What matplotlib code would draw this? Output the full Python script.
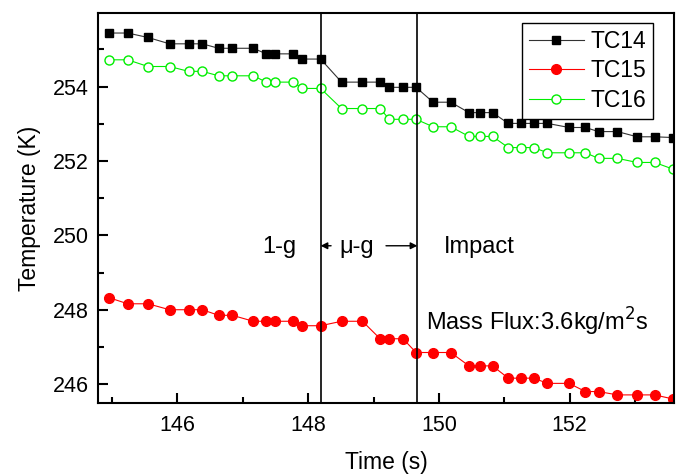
import matplotlib
matplotlib.use('Agg')
from matplotlib import pyplot as plt
from matplotlib.ticker import MultipleLocator

plt.rcParams['font.family'] = ['Liberation Sans', 'DejaVu Sans']

# sample times (s), shared by all three thermocouples
time_s = [144.96, 145.24, 145.55, 145.88, 146.17, 146.38, 146.63, 146.84,
          147.16, 147.36, 147.49, 147.77, 147.91, 148.19, 148.51, 148.83,
          149.10, 149.24, 149.45, 149.65, 149.91, 150.18, 150.46, 150.63,
          150.82, 151.06, 151.25, 151.45, 151.66, 151.99, 152.24, 152.44,
          152.73, 153.03, 153.30, 153.58]

tc14 = [255.44, 255.44, 255.32, 255.15, 255.15, 255.15, 255.03, 255.03,
        255.03, 254.88, 254.88, 254.88, 254.74, 254.74, 254.12, 254.12,
        254.12, 253.98, 253.98, 253.98, 253.58, 253.58, 253.30, 253.30,
        253.30, 253.01, 253.01, 253.01, 253.01, 252.90, 252.90, 252.79,
        252.79, 252.65, 252.65, 252.63]

tc15 = [248.32, 248.16, 248.16, 248.00, 248.00, 248.00, 247.85, 247.85,
        247.69, 247.69, 247.69, 247.69, 247.57, 247.57, 247.69, 247.69,
        247.22, 247.22, 247.22, 246.85, 246.85, 246.85, 246.49, 246.49,
        246.49, 246.16, 246.16, 246.16, 246.02, 246.02, 245.80, 245.80,
        245.71, 245.71, 245.71, 245.60]

tc16 = [254.72, 254.72, 254.54, 254.54, 254.41, 254.41, 254.29, 254.29,
        254.29, 254.12, 254.12, 254.12, 253.95, 253.95, 253.41, 253.41,
        253.41, 253.12, 253.12, 253.12, 252.92, 252.92, 252.66, 252.66,
        252.66, 252.36, 252.36, 252.36, 252.22, 252.22, 252.22, 252.07,
        252.07, 251.96, 251.96, 251.78]

phase_lines = [148.19, 149.67]


def main():
    fig = plt.figure(figsize=(6.77, 4.74), dpi=100)
    ax = fig.add_axes([0.1452, 0.1504, 0.8504, 0.8215])

    ax.plot(time_s, tc14, '-s', color='#333333', lw=0.8, ms=6,
            mfc='black', mec='black', label='TC14')
    ax.plot(time_s, tc15, '-o', color='red', lw=0.8, ms=7,
            mfc='red', mec='red', label='TC15')
    ax.plot(time_s, tc16, '-o', color='#00ee00', lw=0.8, ms=6.5,
            mfc='white', mec='#00ee00', mew=1.0, label='TC16')

    for x in phase_lines:
        ax.axvline(x, color='black', lw=1.2)

    ax.text(147.56, 249.7, '1-g', fontsize=17, ha='center', va='center')
    ax.text(148.74, 249.7, '\u03bc-g', fontsize=17, ha='center', va='center')
    ax.text(150.62, 249.7, 'Impact', fontsize=17, ha='center', va='center')
    arrow = dict(arrowstyle='-|>', color='black', lw=1, mutation_scale=10,
                 shrinkA=0, shrinkB=0)
    ax.annotate('', xy=(phase_lines[0], 249.72), xytext=(148.35, 249.72),
                arrowprops=arrow)
    ax.annotate('', xy=(phase_lines[1], 249.72), xytext=(149.19, 249.72),
                arrowprops=arrow)
    ax.text(149.80, 247.68, 'Mass Flux:3.6kg/m$^2$s', fontsize=17,
            ha='left', va='center')

    ax.set_xlim(144.79, 153.595)
    ax.set_ylim(245.5, 255.97)
    ax.xaxis.set_major_locator(MultipleLocator(2))
    ax.xaxis.set_minor_locator(MultipleLocator(1))
    ax.yaxis.set_major_locator(MultipleLocator(2))
    ax.yaxis.set_minor_locator(MultipleLocator(1))
    ax.tick_params(which='both', direction='in', top=False, right=False,
                   width=1.5, labelsize=15.5)
    ax.tick_params(which='major', length=7)
    ax.tick_params(which='minor', length=4)
    ax.tick_params(axis='x', pad=9)
    ax.tick_params(axis='y', pad=7)
    for sp in ax.spines.values():
        sp.set_linewidth(1.5)

    ax.set_xlabel('Time (s)', fontsize=16.5, labelpad=11)
    ax.set_ylabel('Temperature (K)', fontsize=16.5, labelpad=8)

    leg = ax.legend(loc='upper right', bbox_to_anchor=(0.964, 0.976),
                    borderaxespad=0, fontsize=16.5, handlelength=2.4,
                    handletextpad=0.3, labelspacing=0.3, borderpad=0.3,
                    fancybox=False, framealpha=1, edgecolor='black')
    leg.get_frame().set_linewidth(1.0)

    fig.savefig('out.png', dpi=100)


if __name__ == '__main__':
    main()
